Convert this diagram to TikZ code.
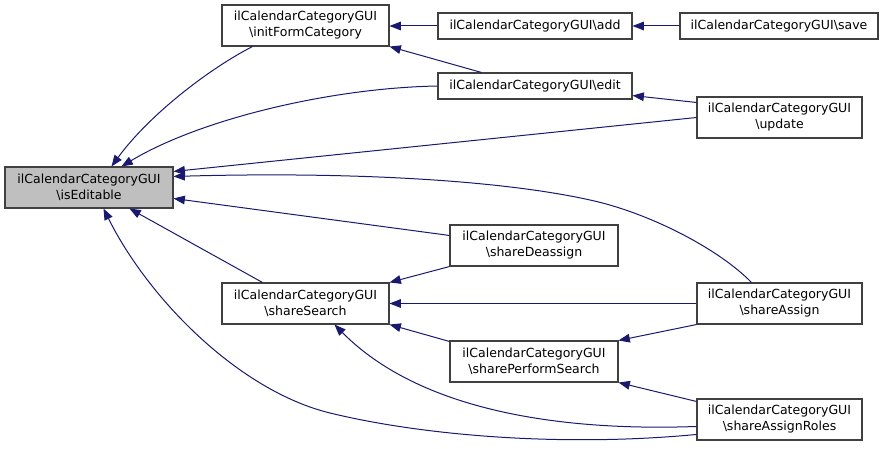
\documentclass[tikz,border=0pt]{standalone}
\usepackage{fontspec}
\setmainfont{DejaVu Sans}
\usetikzlibrary{arrows.meta,calc}
\definecolor{edgeblue}{HTML}{191970}
\definecolor{boxline}{HTML}{404040}
\definecolor{hilite}{HTML}{BFBFBF}
\tikzset{
  fn/.style={draw=boxline, line width=0.8pt, fill=white, inner sep=0pt, align=center,
    font=\fontsize{9.4pt}{12pt}\selectfont, minimum height=30.75pt},
  fnone/.style={fn, minimum height=19.5pt},
  edge/.style={draw=edgeblue, line width=0.75pt, -{Triangle[length=8.5pt,width=6.5pt]}},
}
\begin{document}
\begin{tikzpicture}[x=0.75pt,y=-0.75pt]
\useasboundingbox (0,0) rectangle (885,449);
% nodes
\node[fn, fill=hilite, minimum width=126pt] (isEditable) at (89,187.5) {ilCalendarCategoryGUI\\\textbackslash isEditable};
\node[fn, minimum width=125.25pt] (initForm) at (305.5,25.5) {ilCalendarCategoryGUI\\\textbackslash initFormCategory};
\node[fnone, minimum width=145.5pt] (add) at (535,26) {ilCalendarCategoryGUI\textbackslash add};
\node[fnone, minimum width=148.5pt] (save) at (779,26) {ilCalendarCategoryGUI\textbackslash save};
\node[fnone, minimum width=145.5pt] (edit) at (535,86) {ilCalendarCategoryGUI\textbackslash edit};
\node[fn, minimum width=123.75pt] (update) at (779.5,117.5) {ilCalendarCategoryGUI\\\textbackslash update};
\node[fn, minimum width=126pt] (deassign) at (534,245.5) {ilCalendarCategoryGUI\\\textbackslash shareDeassign};
\node[fn, minimum width=125.25pt] (search) at (305.5,303.5) {ilCalendarCategoryGUI\\\textbackslash shareSearch};
\node[fn, minimum width=123.75pt] (assign) at (779.5,303.5) {ilCalendarCategoryGUI\\\textbackslash shareAssign};
\node[fn, minimum width=126pt] (perform) at (534,361.5) {ilCalendarCategoryGUI\\\textbackslash sharePerformSearch};
\node[fn, minimum width=123.75pt] (roles) at (779.5,419.5) {ilCalendarCategoryGUI\\\textbackslash shareAssignRoles};
% bend points
\coordinate (saBend) at (590,200);
\coordinate (arBend) at (330,413);
% edges into isEditable
\draw[edge] ($(initForm.south west)+(31,0)$) .. controls +(-43,22) and +(38,-52) .. ($(isEditable.north west)+(107,0)$);
\draw[edge] (edit.west) .. controls +(-108,2) and +(78,-47) .. ($(isEditable.north west)+(117,0)$);
\draw[edge] (update.west) -- ($(isEditable.north east)+(0,5)$);
\draw[edge] ($(assign.north west)+(55,0)$) .. controls +(-32,-33) and +(60,13) .. (saBend)
   .. controls +(-90,-20) and +(176,-5) .. ($(isEditable.north east)+(0,10)$);
\draw[edge] ($(deassign.north west)+(0,11)$) -- ($(isEditable.north east)+(0,32)$);
\draw[edge] ($(search.north west)+(41,0)$) -- ($(isEditable.south west)+(125,0)$);
\draw[edge] ($(roles.north west)+(0,36)$) .. controls +(-137,13) and +(90,22) .. (arBend)
   .. controls +(-90,-22) and +(46,92) .. ($(isEditable.south west)+(99,0)$);
% other edges
\draw[edge] (add.west) -- (add.west -| initForm.east);
\draw[edge] ($(edit.north west)+(44,0)$) -- (initForm.south east);
\draw[edge] (save.west) -- (add.east);
\draw[edge] ($(update.north west)+(0,6)$) -- ($(edit.south east)+(0,-4)$);
\draw[edge] (deassign.south west) -- (search.north east);
\draw[edge] (assign.west) -- (search.east);
\draw[edge] ($(perform.north west)+(0,1)$) -- (search.south east);
\draw[edge] ($(roles.north west)+(0,28)$) .. controls +(-137,5) and +(85,86) .. ($(search.south west)+(113,0)$);
\draw[edge] (assign.south west) -- (perform.north east);
\draw[edge] ($(roles.north west)+(0,3)$) -- (perform.south east);
\end{tikzpicture}
\end{document}
